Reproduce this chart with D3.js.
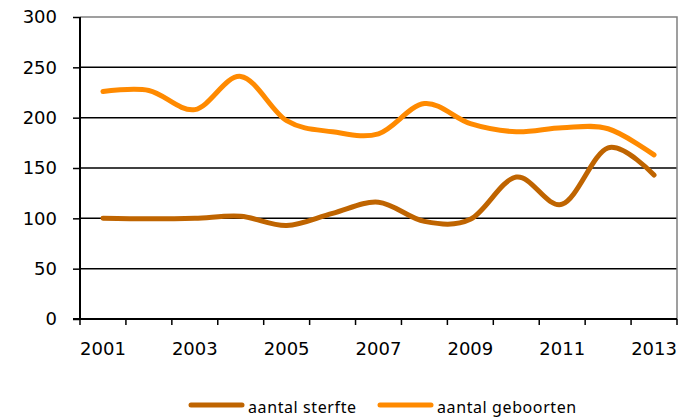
<!DOCTYPE html>
<html><head><meta charset="utf-8">
<script src="https://cdn.jsdelivr.net/npm/d3@7"></script>
<style>body{margin:0;background:#fff}svg{display:block}</style>
</head><body><svg id="c" width="680" height="420"></svg>
<script>
const years = [2001,2002,2003,2004,2005,2006,2007,2008,2009,2010,2011,2012,2013];
const sterfte = [100, 99.5, 100, 102, 93, 105, 116, 97, 99, 141, 114, 170, 143];
const geboorten = [226, 227, 208, 241, 197, 186, 184, 214, 194, 186, 190, 189, 163];
const yTicks = [0,50,100,150,200,250,300];
const seriesNames = ["aantal sterfte","aantal geboorten"];
const colors = ["#BF6400","#FF8A00"];

const svg = d3.select("#c");
const L=80, R=677, T=17, B=319;
const x = d3.scaleBand().domain(years).range([L,R]);
const y = d3.scaleLinear().domain([0,300]).range([B,T]);
const cx = d => x(d)+x.bandwidth()/2;
const tickFont = "'DejaVu Sans', sans-serif";

// gridlines
svg.append("g").selectAll("line").data(yTicks.filter(v=>v>0 && v<300)).join("line")
  .attr("x1",L).attr("x2",R).attr("y1",d=>y(d)).attr("y2",d=>y(d))
  .attr("stroke","#000").attr("stroke-width",1.5);
// frame top/right
svg.append("path").attr("d",`M${L},${y(300)}H${R}V${B}`).attr("fill","none")
  .attr("stroke","#808080").attr("stroke-width",1.5);

// y axis
const ya = svg.append("g").attr("transform",`translate(${L},0)`)
  .call(d3.axisLeft(y).tickValues(yTicks).tickSize(7).tickPadding(16));
ya.select(".domain").attr("stroke","#000").attr("stroke-width",2).attr("d",`M0,${T}V${B}`);
ya.selectAll(".tick line").attr("stroke","#000").attr("stroke-width",1.5);
ya.selectAll("text").attr("font-family",tickFont).attr("font-size",18).attr("fill","#000");

// x axis
const xa = svg.append("g").attr("transform",`translate(0,${B})`);
xa.append("line").attr("x1",L-7).attr("x2",R).attr("stroke","#000").attr("stroke-width",2);
const edges = years.map(d=>x(d)).concat([R]);
xa.selectAll("line.tk").data(edges).join("line").attr("class","tk")
  .attr("x1",d=>d).attr("x2",d=>d).attr("y1",0).attr("y2",6)
  .attr("stroke","#000").attr("stroke-width",1.5);
xa.selectAll("text").data(years.filter((d,i)=>i%2===0)).join("text")
  .attr("x",d=>cx(d)).attr("y",36).attr("text-anchor","middle")
  .attr("font-family",tickFont).attr("font-size",18).attr("fill","#000")
  .text(d=>d);

// lines
const line = d3.line().x((d,i)=>cx(years[i])).y(d=>y(d)).curve(d3.curveCardinal.tension(0));
[sterfte, geboorten].forEach((s,k)=>{
  svg.append("path").datum(s).attr("d",line).attr("fill","none")
    .attr("stroke",colors[k]).attr("stroke-width",5).attr("stroke-linecap","round").attr("stroke-linejoin","round");
});

// legend
const lg = svg.append("g");
const lx = [191, 380];
seriesNames.forEach((n,k)=>{
  lg.append("line").attr("x1",lx[k]).attr("x2",lx[k]+51).attr("y1",405).attr("y2",405)
    .attr("stroke",colors[k]).attr("stroke-width",5).attr("stroke-linecap","round");
  lg.append("text").attr("x",lx[k]+57).attr("y",413).attr("font-family","'Noto Sans', sans-serif")
    .attr("font-size",16).attr("letter-spacing",0.6).attr("fill","#000").text(n);
});
</script></body></html>
